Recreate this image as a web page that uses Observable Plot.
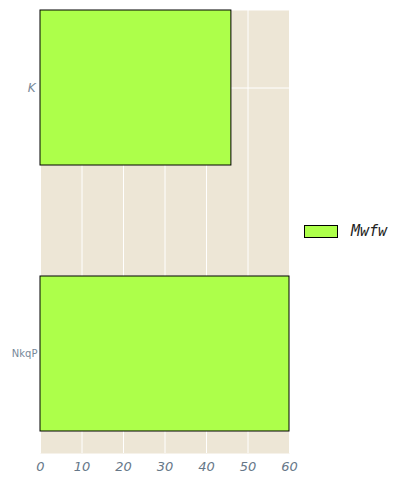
<!DOCTYPE html>
<html>
<head>
<meta charset="utf-8">
<script src="https://cdn.jsdelivr.net/npm/d3@7"></script>
<script src="https://cdn.jsdelivr.net/npm/@observablehq/plot@0.6"></script>
<style>
  html, body { margin: 0; padding: 0; background: #fff; }
  #wrap { position: relative; width: 414px; height: 483px; }
  #legend { position: absolute; left: 304px; top: 222px; display: flex; align-items: center; }
  #legend .sw { width: 32px; height: 11px; background: #adff4a; border: 1px solid #000; }
  #legend .lb { margin-left: 13px; font-family: "DejaVu Sans Mono", monospace; font-style: italic; font-size: 15px; color: #222; }
</style>
</head>
<body>
<div id="wrap"><div id="legend"><div class="sw"></div><div class="lb">Mwfw</div></div></div>
<script>
const categories = ["K", "NkqP"];
const values = [46, 60];
const series = "Mwfw";
const xTicks = [0, 10, 20, 30, 40, 50, 60];

const data = categories.map((c, i) => ({cat: c, value: values[i], series}));

const chart = Plot.plot({
  width: 414,
  height: 483,
  marginLeft: 40,
  marginRight: 125,
  marginTop: 10,
  marginBottom: 30,
  style: {background: "transparent"},
  x: {domain: [0, 60]},
  y: {domain: categories, paddingInner: 0.416, paddingOuter: 0.038, align: 0},
  marks: [
    Plot.frame({fill: "#ede6d6", stroke: null}),
    Plot.gridX(xTicks, {stroke: "#fff", strokeOpacity: 1, strokeWidth: 1}),
    Plot.gridY(categories, {stroke: "#fff", strokeOpacity: 1, strokeWidth: 1}),
    Plot.barX(data, {x: "value", y: "cat", fill: "#adff4a", stroke: "#000", strokeWidth: 1}),
    Plot.axisX(xTicks, {tickSize: 0, tickPadding: 8, fontStyle: "italic", fontSize: 13, color: "#667788", fontFamily: "DejaVu Sans", label: null}),
    Plot.axisY([categories[0]], {tickSize: 0, tickPadding: 5, fontStyle: "italic", fontSize: 12, color: "#778899", fontFamily: "DejaVu Sans", label: null}),
    Plot.axisY([categories[1]], {tickSize: 0, tickPadding: 3, fontSize: 10, color: "#778899", fontFamily: "DejaVu Sans", label: null})
  ]
});
document.getElementById("wrap").prepend(chart);
chart.style.position = "absolute";
chart.style.left = "0";
chart.style.top = "0";
</script>
</body>
</html>
